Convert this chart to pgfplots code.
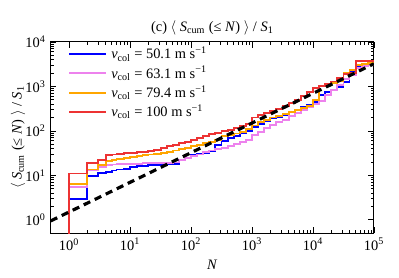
\documentclass[border=0pt]{standalone}
\usepackage{pgfplots}
\pgfplotsset{compat=1.18}
\usepackage{fontspec}
\setmainfont{Liberation Serif}
\definecolor{cblue}{rgb}{0,0,1}
\definecolor{cviolet}{rgb}{0.93,0.51,0.93}
\definecolor{corange}{rgb}{1,0.65,0}
\definecolor{cred}{rgb}{0.93,0.2,0.2}
\begin{document}
\begin{tikzpicture}
\begin{axis}[
  scale only axis,
  width=224.4pt, height=132.8pt,
  xmode=log, ymode=log,
  xmin=0.5, xmax=100000, ymin=0.5, ymax=10000,
  xtick={1,10,100,1000,10000,100000},
  xticklabels={10\textsuperscript{0},10\textsuperscript{1},10\textsuperscript{2},10\textsuperscript{3},10\textsuperscript{4},10\textsuperscript{5}},
  ytick={1,10,100,1000,10000},
  yticklabels={10\textsuperscript{0},10\textsuperscript{1},10\textsuperscript{2},10\textsuperscript{3},10\textsuperscript{4}},
  tick align=inside,
  tick pos=both,
  major tick length=4pt,
  minor tick length=2pt,
  axis line style={line width=0.7pt},
  every tick/.style={black, line width=0.5pt},
  tick label style={font=\fontsize{10}{12}\selectfont},
  title={(c) $\langle$ \textit{S}\textsubscript{cum} (≤ \textit{N}) $\rangle$ / \textit{S}\textsubscript{1}},
  title style={at={(axis description cs:0.5,1)}, anchor=base, yshift=1.5pt, font=\fontsize{10}{12}\selectfont},
  xlabel={\textit{N}},
  xlabel style={at={(axis description cs:0.5,0)}, anchor=base, yshift=-25pt},
  ylabel={$\langle$ \textit{S}\textsubscript{cum} (≤ \textit{N}) $\rangle$ / \textit{S}\textsubscript{1}},
  ylabel style={at={(axis description cs:-0.101,0.5)}, anchor=center},
  legend style={at={(axis description cs:0.053,0.988)}, anchor=north west, draw=none, fill=none,
    row sep=0pt, inner xsep=0pt, inner ysep=0pt, font=\fontsize{10}{10.5}\selectfont,
    nodes={inner xsep=3pt, inner ysep=1.8pt}},
  legend cell align=left,
  legend image code/.code={\draw[#1] (0pt,0pt) -- (25.7pt,0pt);},
]
\addplot[const plot, draw=cblue, line width=1.3pt] coordinates {
(1,2.88)(2,9.55)(3,11.5)(4,12.0)(5,12.9)(6,13.5)(8,14.1)(10,15.5)(13,16.2)(16,16.6)(20,17.0)(25,17.4)(32,17.6)(40,17.8)(50,18.2)(63,22.4)(79,25.1)(100,28.2)(126,30.2)(158,31.6)(200,35.5)(251,47.9)(316,60.3)(398,69.2)(501,77.6)(631,87.1)(794,100)(1000,120)(1259,145)(1585,166)(1995,191)(2512,209)(3162,229)(3981,263)(5012,302)(6310,339)(7943,380)(10000,447)(12589,631)(15849,759)(19953,851)(25119,955)(31623,1259)(39811,2138)(50119,2754)(63096,3020)(79433,3162)(100000,3311)
};
\addlegendentry{\textit{v}\textsubscript{col} = 50.1 m s\textsuperscript{−1}}
\addplot[const plot, draw=cviolet, line width=1.3pt] coordinates {
(1,5.37)(2,12.9)(3,15.5)(4,17.4)(5,17.6)(6,17.8)(8,18.0)(10,18.2)(13,18.4)(16,18.6)(20,18.6)(25,18.8)(32,19.1)(40,19.1)(50,19.5)(63,22.4)(79,24.5)(100,26.9)(126,29.5)(158,33.1)(200,36.3)(251,38.9)(316,41.7)(398,45.7)(501,50.1)(631,55.0)(794,63.1)(1000,79.4)(1259,95.5)(1585,115)(1995,135)(2512,158)(3162,174)(3981,214)(5012,251)(6310,295)(7943,347)(10000,398)(12589,479)(15849,631)(19953,832)(25119,1096)(31623,1445)(39811,1820)(50119,2570)(63096,2818)(79433,3090)(100000,3311)
};
\addlegendentry{\textit{v}\textsubscript{col} = 63.1 m s\textsuperscript{−1}}
\addplot[const plot, draw=corange, line width=1.3pt] coordinates {
(1,6.31)(2,13.5)(3,17.4)(4,20.9)(5,22.4)(6,23.4)(8,25.1)(10,26.3)(13,27.5)(16,28.2)(20,29.5)(25,30.9)(32,32.4)(40,33.9)(50,36.3)(63,38.9)(79,41.7)(100,45.7)(126,49.0)(158,52.5)(200,57.5)(251,63.1)(316,75.9)(398,81.3)(501,87.1)(631,95.5)(794,112)(1000,132)(1259,158)(1585,178)(1995,200)(2512,219)(3162,245)(3981,269)(5012,295)(6310,331)(7943,363)(10000,501)(12589,1000)(15849,1072)(19953,1175)(25119,1288)(31623,1995)(39811,2344)(50119,3020)(63096,3162)(79433,3388)(100000,3631)
};
\addlegendentry{\textit{v}\textsubscript{col} = 79.4 m s\textsuperscript{−1}}
\addplot[const plot, draw=cred, line width=1.3pt] coordinates {
(1,0.3)(1,11.0)(2,19.1)(3,22.4)(4,28.8)(5,29.5)(6,30.2)(8,31.6)(10,32.4)(13,33.1)(16,33.9)(20,35.5)(25,38.0)(32,40.7)(40,44.7)(50,47.9)(63,52.5)(79,57.5)(100,63.1)(126,69.2)(158,75.9)(200,83.2)(251,89.1)(316,97.7)(398,105)(501,115)(631,126)(794,141)(1000,200)(1259,229)(1585,251)(1995,282)(2512,309)(3162,355)(3981,417)(5012,501)(6310,603)(7943,741)(10000,912)(12589,1000)(15849,1122)(19953,1288)(25119,1514)(31623,1905)(39811,2042)(50119,3802)(63096,3802)(79433,3802)(100000,3802)
};
\addlegendentry{\textit{v}\textsubscript{col} = 100 m s\textsuperscript{−1}}
\addplot[black, line width=2.2pt, dash pattern=on 5pt off 3.5pt, forget plot] coordinates {(0.5,0.945)(100000,3232)};
\end{axis}
\pgfresetboundingbox
\path ([xshift=-35.2pt,yshift=-31pt]current axis.south west) rectangle ([xshift=17.4pt,yshift=29.1pt]current axis.north east);
\end{tikzpicture}
\end{document}
